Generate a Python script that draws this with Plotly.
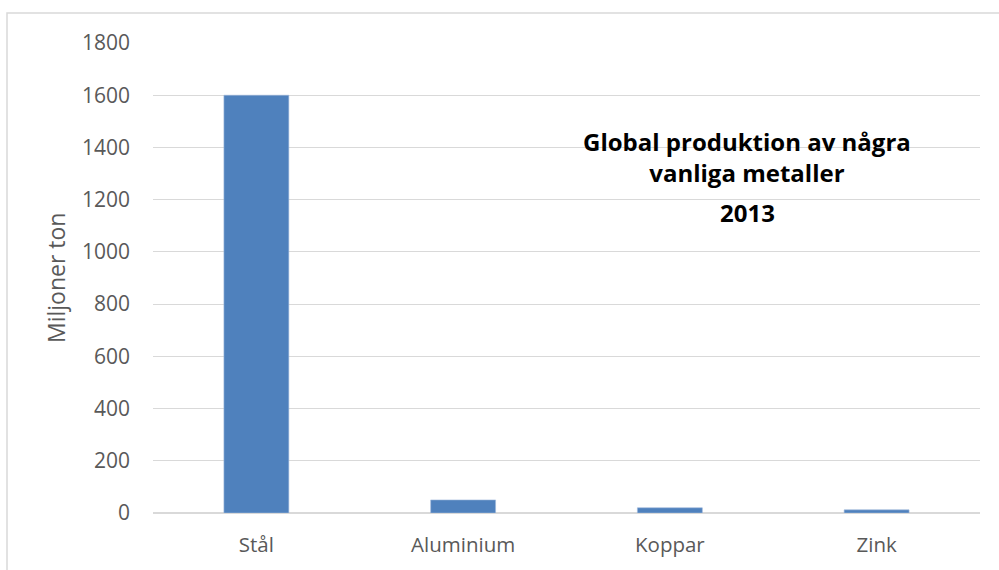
import plotly.graph_objects as go

# Global production of some common metals, 2013 (million tonnes)
metals = ["Stål", "Aluminium", "Koppar", "Zink"]
production = [1600, 50, 20, 12]
y_ticks = [0, 200, 400, 600, 800, 1000, 1200, 1400, 1600, 1800]

GRID = "#d9d9d9"
TEXT = "#595959"
FONT = "Open Sans"

# pixel helpers for placing annotations relative to the plot area
L, R, T, B = 153, 19, 43, 57
W, H = 999, 570
PW, PH = W - L - R, H - T - B


def px_x(x):
    return (x - L) / PW


def px_y(y):
    return (H - B - y) / PH


fig = go.Figure(
    go.Bar(
        x=metals,
        y=production,
        marker=dict(color="#4f81bd", line=dict(color="#9fb9dc", width=0.6)),
        hoverinfo="x+y",
    )
)

fig.update_layout(
    width=W,
    height=H,
    margin=dict(l=L, r=R, t=T, b=B),
    paper_bgcolor="white",
    plot_bgcolor="white",
    bargap=0.686,
    showlegend=False,
    font=dict(family=FONT, color=TEXT, size=18),
    xaxis=dict(
        type="category",
        showgrid=False,
        showline=False,
        ticks="",
        tickfont=dict(size=20.5, color=TEXT),
        ticklabelstandoff=17,
    ),
    yaxis=dict(
        range=[0, 1800],
        tickvals=y_ticks,
        showgrid=True,
        gridcolor=GRID,
        gridwidth=1,
        zeroline=True,
        zerolinecolor=GRID,
        zerolinewidth=1.5,
        showline=False,
        ticks="",
        tickfont=dict(size=21, color=TEXT),
        ticklabelstandoff=22,
    ),
    shapes=[
        # light chart-area frame
        dict(
            type="rect",
            xref="paper",
            yref="paper",
            x0=px_x(7),
            x1=1.2,
            y0=-0.3,
            y1=px_y(13),
            line=dict(color=GRID, width=1.5),
            fillcolor="rgba(0,0,0,0)",
            layer="below",
        )
    ],
    annotations=[
        dict(
            text="Miljoner ton",
            xref="paper",
            yref="paper",
            x=px_x(56),
            y=px_y(278),
            xanchor="center",
            yanchor="middle",
            textangle=-90,
            showarrow=False,
            font=dict(family=FONT, size=23, color=TEXT),
        ),
        dict(
            text="<b>Global produktion av några<br>vanliga metaller</b>",
            xref="paper",
            yref="paper",
            x=px_x(747),
            y=px_y(157),
            xanchor="center",
            yanchor="middle",
            align="center",
            showarrow=False,
            font=dict(family=FONT, size=24, color="#000000"),
        ),
        dict(
            text="<b>2013</b>",
            xref="paper",
            yref="paper",
            x=px_x(747),
            y=px_y(213),
            xanchor="center",
            yanchor="middle",
            align="center",
            showarrow=False,
            font=dict(family=FONT, size=24, color="#000000"),
        ),
    ],
)

fig.write_html("out.html")
